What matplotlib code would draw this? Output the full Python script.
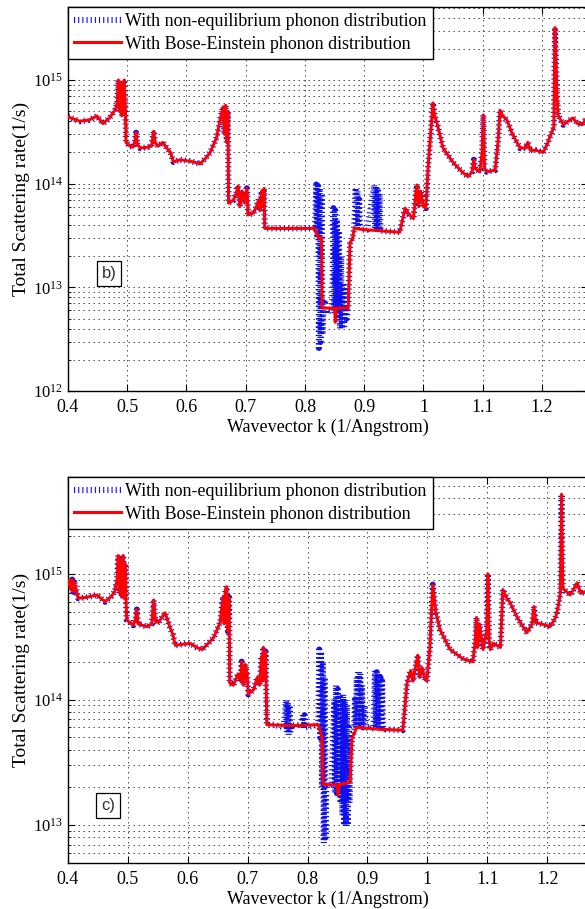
import matplotlib.pyplot as plt
from matplotlib.ticker import LogLocator, FormatStrFormatter, NullFormatter

plt.rcParams['font.family'] = ['Liberation Serif', 'DejaVu Serif']
plt.rcParams['mathtext.fontset'] = 'stix'
plt.rcParams['lines.scale_dashes'] = False

# ---- panel b) ----
b_k = [0.400, 0.410, 0.420, 0.435, 0.449, 0.459, 0.470, 0.480, 0.483, 0.485,
       0.487, 0.489, 0.491, 0.493, 0.495, 0.497, 0.498, 0.505, 0.510, 0.513,
       0.515, 0.517, 0.522, 0.535, 0.541, 0.543, 0.545, 0.547, 0.552, 0.560,
       0.567, 0.573, 0.578, 0.589, 0.605, 0.615, 0.623, 0.632, 0.640, 0.651,
       0.658, 0.662, 0.664, 0.666, 0.668, 0.670, 0.671, 0.679, 0.684, 0.687,
       0.690, 0.694, 0.698, 0.702, 0.704, 0.713, 0.718, 0.722, 0.724, 0.727,
       0.729, 0.731, 0.732, 0.760, 0.790, 0.817, 0.822, 0.828, 0.829, 0.847,
       0.850, 0.851, 0.853, 0.873, 0.876, 0.880, 0.883, 0.900, 0.930, 0.960,
       0.969, 0.976, 0.983, 0.987, 0.989, 0.992, 0.995, 1.000, 1.004, 1.008,
       1.012, 1.016, 1.019, 1.023, 1.033, 1.050, 1.065, 1.075, 1.082, 1.085,
       1.087, 1.095, 1.099, 1.101, 1.103, 1.107, 1.121, 1.126, 1.129, 1.134,
       1.141, 1.150, 1.163, 1.172, 1.176, 1.180, 1.190, 1.202, 1.210, 1.213,
       1.220, 1.222, 1.225, 1.227, 1.236, 1.244, 1.252, 1.260, 1.268, 1.280]
b_red = [4.4e14, 4.2e14, 4.0e14, 4.1e14, 4.5e14, 3.8e14, 4.3e14, 5.2e14, 6.0e14, 1.0e15,
         5.0e14, 9.5e14, 4.5e14, 8.0e14, 1.0e15, 5.0e14, 2.5e14, 2.3e14, 2.25e14, 2.6e14,
         3.1e14, 2.4e14, 2.2e14, 2.25e14, 2.3e14, 2.8e14, 3.2e14, 2.5e14, 2.3e14, 2.5e14,
         2.2e14, 2.0e14, 1.62e14, 1.7e14, 1.65e14, 1.6e14, 1.55e14, 1.75e14, 2.0e14, 2.8e14,
         4.5e14, 5.5e14, 3.0e14, 5.7e14, 2.5e14, 5.0e14, 6.5e13, 6.9e13, 8.0e13, 9.5e13,
         6.0e13, 8.5e13, 6.5e13, 9.0e13, 5.0e13, 5.2e13, 6.0e13, 7.0e13, 5.5e13, 8.5e13,
         6.0e13, 9.0e13, 3.7e13, 3.7e13, 3.7e13, 3.7e13, 3.0e13, 3.0e13, 6.3e12, 6.3e12,
         6.3e12, 4.6e12, 6.3e12, 6.3e12, 2.7e13, 2.9e13, 3.7e13, 3.6e13, 3.5e13, 3.4e13,
         5.8e13, 5.0e13, 4.6e13, 8.0e13, 9.7e13, 6.0e13, 8.5e13, 6.0e13, 5.8e13, 1.5e14,
         3.0e14, 6.0e14, 4.5e14, 3.8e14, 2.2e14, 1.6e14, 1.3e14, 1.17e14, 1.3e14, 1.7e14,
         1.4e14, 1.3e14, 2.0e14, 4.6e14, 1.4e14, 1.3e14, 1.35e14, 2.6e14, 5.1e14, 4.5e14,
         4.1e14, 3.0e14, 2.2e14, 2.2e14, 2.5e14, 2.1e14, 2.1e14, 2.0e14, 2.5e14, 2.8e14,
         3.5e14, 3.2e15, 8.0e14, 4.6e14, 3.7e14, 4.0e14, 4.3e14, 3.8e14, 3.7e14, 4.8e14]

# non-equilibrium curve differs from the red one only between these k
b_blue_mid_k = [0.817, 0.819, 0.8205, 0.822, 0.8235, 0.825, 0.8265, 0.828, 0.8295, 0.831,
                0.834, 0.838, 0.842, 0.846, 0.848, 0.8495, 0.851, 0.8525, 0.854, 0.8555,
                0.857, 0.859, 0.861, 0.8625, 0.864, 0.866, 0.868, 0.870, 0.873, 0.876,
                0.880, 0.883, 0.8855, 0.887, 0.8885, 0.890, 0.8915, 0.893, 0.905, 0.917,
                0.9185, 0.920, 0.9215, 0.923, 0.9245, 0.926, 0.9275, 0.930]
b_blue_mid = [3.7e13, 9.8e13, 3.0e13, 9.5e13, 2.6e12, 9.0e13, 3.0e12, 8.0e13, 3.5e12, 6.0e12,
              7.0e12, 5.5e12, 6.5e12, 6.0e12, 5.8e13, 5.6e12, 5.5e13, 6.0e12, 4.5e13, 5.0e12,
              3.5e13, 4.0e12, 2.0e13, 4.0e12, 1.1e13, 4.0e12, 1.0e13, 5.0e12, 6.3e12, 2.7e13,
              3.0e13, 3.7e13, 9.1e13, 3.6e13, 8.5e13, 3.8e13, 7.0e13, 3.6e13, 3.6e13, 9.7e13,
              3.5e13, 9.5e13, 3.5e13, 9.0e13, 3.5e13, 8.0e13, 3.5e13, 3.5e13]

# ---- panel c) ----
c_k = [0.400, 0.403, 0.405, 0.407, 0.409, 0.411, 0.417, 0.430, 0.448, 0.462,
       0.472, 0.478, 0.482, 0.484, 0.486, 0.488, 0.490, 0.492, 0.494, 0.496,
       0.497, 0.498, 0.509, 0.513, 0.515, 0.517, 0.532, 0.540, 0.543, 0.546,
       0.551, 0.562, 0.570, 0.575, 0.579, 0.590, 0.604, 0.615, 0.624, 0.634,
       0.643, 0.654, 0.659, 0.661, 0.663, 0.665, 0.667, 0.669, 0.670, 0.676,
       0.684, 0.688, 0.690, 0.693, 0.696, 0.699, 0.701, 0.710, 0.716, 0.720,
       0.723, 0.725, 0.726, 0.728, 0.730, 0.732, 0.780, 0.818, 0.824, 0.826,
       0.846, 0.849, 0.851, 0.853, 0.871, 0.874, 0.882, 0.920, 0.959, 0.966,
       0.972, 0.976, 0.981, 0.984, 0.987, 0.991, 0.995, 0.999, 1.004, 1.009,
       1.014, 1.021, 1.038, 1.060, 1.076, 1.080, 1.082, 1.084, 1.087, 1.093,
       1.099, 1.101, 1.103, 1.105, 1.110, 1.122, 1.124, 1.126, 1.132, 1.138,
       1.150, 1.166, 1.175, 1.178, 1.181, 1.190, 1.205, 1.214, 1.218, 1.222,
       1.224, 1.226, 1.238, 1.244, 1.250, 1.256, 1.263, 1.275]
c_red = [8.2e14, 9.0e14, 7.5e14, 9.0e14, 7.2e14, 8.5e14, 6.4e14, 6.5e14, 6.8e14, 6.0e14,
         6.6e14, 7.2e14, 9.0e14, 1.4e15, 7.0e14, 1.3e15, 6.5e14, 1.4e15, 6.5e14, 1.2e15,
         6.0e14, 4.3e14, 3.9e14, 4.4e14, 5.2e14, 4.0e14, 3.8e14, 4.0e14, 6.2e14, 4.2e14,
         4.1e14, 4.9e14, 3.8e14, 3.3e14, 2.7e14, 2.75e14, 2.8e14, 2.6e14, 2.5e14, 2.8e14,
         3.1e14, 4.1e14, 6.6e14, 4.0e14, 7.5e14, 7.9e14, 3.5e14, 6.5e14, 1.35e14, 1.3e14,
         1.6e14, 1.4e14, 2.0e14, 1.3e14, 1.9e14, 1.6e14, 1.1e14, 1.2e14, 1.5e14, 1.3e14,
         2.2e14, 1.4e14, 2.6e14, 1.5e14, 2.4e14, 6.3e13, 6.2e13, 6.3e13, 5.0e13, 2.1e13,
         2.1e13, 2.1e13, 1.75e13, 2.1e13, 2.2e13, 4.9e13, 6.0e13, 5.8e13, 5.7e13, 1.35e14,
         1.7e14, 1.4e14, 1.9e14, 2.25e14, 1.5e14, 1.8e14, 1.5e14, 1.4e14, 2.5e14, 8.2e14,
         5.0e14, 3.6e14, 2.5e14, 2.1e14, 2.0e14, 3.0e14, 4.5e14, 2.6e14, 4.0e14, 2.5e14,
         3.5e14, 1.0e15, 3.0e14, 2.5e14, 2.8e14, 2.6e14, 4.5e14, 7.5e14, 6.5e14, 5.9e14,
         4.5e14, 3.4e14, 4.0e14, 5.5e14, 4.1e14, 4.0e14, 3.8e14, 4.5e14, 5.4e14, 7.0e14,
         4.3e15, 7.7e14, 6.8e14, 7.5e14, 8.5e14, 7.0e14, 7.2e14, 7.8e14]

c_blue_mid_k = [0.732, 0.745, 0.760, 0.764, 0.7655, 0.767, 0.7685, 0.770, 0.7715, 0.773,
                0.790, 0.792, 0.7935, 0.795, 0.797, 0.818, 0.8195, 0.821, 0.8225, 0.824,
                0.8255, 0.827, 0.8285, 0.830, 0.8315, 0.836, 0.840, 0.8445, 0.846, 0.8475,
                0.849, 0.8505, 0.852, 0.8535, 0.855, 0.8565, 0.858, 0.8595, 0.861, 0.8625,
                0.864, 0.8655, 0.867, 0.8685, 0.870, 0.8715, 0.874, 0.8775, 0.879, 0.8805,
                0.882, 0.8835, 0.885, 0.8865, 0.888, 0.8895, 0.891, 0.8925, 0.895, 0.898,
                0.905, 0.910, 0.9125, 0.914, 0.9155, 0.917, 0.9185, 0.920, 0.9215, 0.923,
                0.9245, 0.926, 0.930]
c_blue_mid = [6.3e13, 6.3e13, 6.0e13, 1.0e14, 5.5e13, 9.5e13, 5.2e13, 9.0e13, 5.5e13, 6.2e13,
              6.3e13, 7.5e13, 5.8e13, 7.5e13, 6.0e13, 6.3e13, 2.5e14, 5.0e13, 2.4e14, 2.0e13,
              2.0e14, 7.2e12, 1.5e14, 8.0e12, 2.1e13, 2.0e13, 2.1e13, 1.0e14, 1.8e13, 1.3e14,
              1.8e13, 1.2e14, 1.8e13, 1.1e14, 1.5e13, 1.0e14, 1.2e13, 1.1e14, 1.0e13, 1.0e14,
              9.6e12, 9.0e13, 1.0e13, 6.0e13, 1.5e13, 3.0e13, 4.9e13, 5.5e13, 1.0e14, 6.0e13,
              1.5e14, 6.0e13, 1.7e14, 6.5e13, 1.6e14, 6.0e13, 1.3e14, 6.0e13, 9.0e13, 6.0e13,
              5.8e13, 6.0e13, 1.7e14, 6.0e13, 1.65e14, 6.0e13, 1.6e14, 6.0e13, 1.5e14, 6.0e13,
              1.4e14, 6.0e13, 5.8e13]

xtick_vals = [0.4, 0.5, 0.6, 0.7, 0.8, 0.9, 1.0, 1.1, 1.2]
legend_labels = ['With non-equilibrium phonon distribution',
                 'With Bose-Einstein phonon distribution']


def splice(k, y, mid_k, mid_y):
    # red curve outside the mid range, blue-specific points inside it
    left = [(a, b) for a, b in zip(k, y) if a < mid_k[0]]
    right = [(a, b) for a, b in zip(k, y) if a > mid_k[-1]]
    pts = left + list(zip(mid_k, mid_y)) + right
    return [p[0] for p in pts], [p[1] for p in pts]


def draw(ax, k, red, mid_k, mid_y, xmax, ylim, tag, tag_xy):
    bk, by = splice(k, red, mid_k, mid_y)
    ax.plot(bk, by, color='#1010ee', lw=4.4, dashes=(0.8, 2.2),
            dash_capstyle='butt', label=legend_labels[0], zorder=2)
    ax.plot(k, red, color='#ff0000', lw=2.2, label=legend_labels[1], zorder=3)
    ax.set_yscale('log')
    ax.set_xlim(0.4, xmax)
    ax.set_ylim(*ylim)
    ax.set_xticks(xtick_vals)
    ax.xaxis.set_major_formatter(FormatStrFormatter('%g'))
    ax.yaxis.set_major_locator(LogLocator(base=10, numticks=10))
    ax.yaxis.set_minor_locator(LogLocator(base=10, subs=range(2, 10), numticks=10))
    ax.yaxis.set_minor_formatter(NullFormatter())
    ax.grid(True, which='major', color='#222222', lw=0.6, dashes=(1, 2.6))
    ax.grid(True, which='minor', axis='y', color='#222222', lw=0.6, dashes=(1, 2.6))
    ax.set_axisbelow(True)
    ax.tick_params(which='both', direction='in', top=True, right=True)
    ax.tick_params(which='major', length=5)
    ax.tick_params(which='minor', length=2.5)
    ax.tick_params(axis='x', labelsize=13, pad=6)
    ax.tick_params(axis='y', labelsize=12)
    for s in ax.spines.values():
        s.set_linewidth(1.0)
    ax.set_xlabel('Wavevector k (1/Angstrom)', fontsize=13, labelpad=2)
    ax.set_ylabel('Total Scattering rate(1/s)', fontsize=14, labelpad=2)
    leg = ax.legend(loc='upper left', fontsize=13, frameon=True, fancybox=False,
                    edgecolor='k', framealpha=1, borderaxespad=0, borderpad=0.35,
                    labelspacing=0.3, handlelength=2.6, handletextpad=0.2)
    leg.get_frame().set_linewidth(1.0)
    ax.text(tag_xy[0], tag_xy[1], tag, transform=ax.transAxes, fontsize=12,
            family='Liberation Sans', color='#333333', ha='center', va='center',
            bbox=dict(boxstyle='square,pad=0.3', fc='white', ec='k', lw=0.9))


fig = plt.figure(figsize=(5.85, 9.09), dpi=100)
ax1 = fig.add_axes([0.1162, 0.5699, 0.8889, 0.4224])
ax2 = fig.add_axes([0.1162, 0.0506, 0.8889, 0.4246])

draw(ax1, b_k, b_red, b_blue_mid_k, b_blue_mid, 1.2776, (1e12, 5.06e15), 'b)', (0.079, 0.307))
draw(ax2, c_k, c_red, c_blue_mid_k, c_blue_mid, 1.2681, (5e12, 5.9e15), 'c)', (0.077, 0.148))

fig.savefig('out.png', dpi=100)
